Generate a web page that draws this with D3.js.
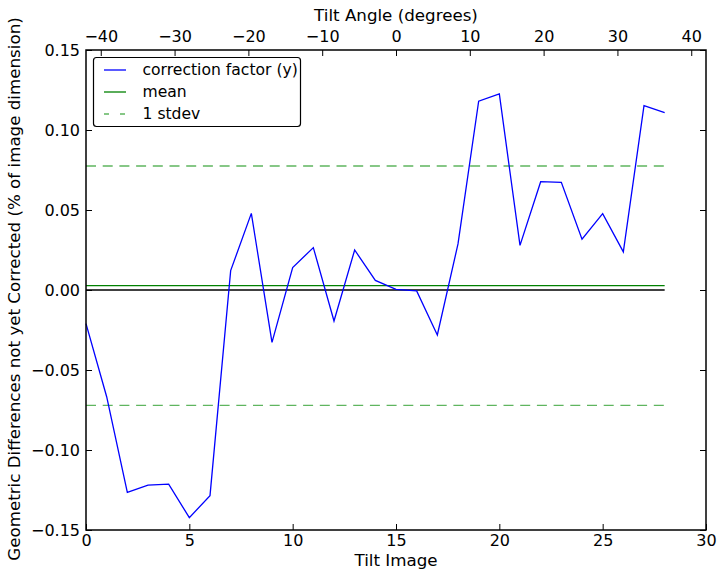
<!DOCTYPE html>
<html><head><meta charset="utf-8">
<script src="https://cdn.jsdelivr.net/npm/d3@7"></script>
<style>body{margin:0;background:#fff}svg text{font-family:"DejaVu Sans",sans-serif;fill:#000}</style>
</head><body><svg id="c" width="725" height="579"></svg>
<script>
const tiltImage = d3.range(0, 29);
const correction = [-0.0210, -0.0667, -0.1265, -0.1219, -0.1213, -0.1423, -0.1285, 0.0121, 0.0479, -0.0327,
  0.0140, 0.0265, -0.0194, 0.0250, 0.0060, 0.0004, -0.0006, -0.0281, 0.0288, 0.1180,
  0.1225, 0.0279, 0.0677, 0.0673, 0.0317, 0.0477, 0.0238, 0.1152, 0.1108];
const meanValue = 0.0027;
const stdevValue = 0.0748;
const xTicks = [0, 5, 10, 15, 20, 25, 30];
const yTicks = [-0.15, -0.10, -0.05, 0.00, 0.05, 0.10, 0.15];
const angleTicks = [-40, -30, -20, -10, 0, 10, 20, 30, 40];
const legendLabels = ["correction factor (y)", "mean", "1 stdev"];

const L = 86, R = 706, T = 50, B = 530;
const svg = d3.select("#c");
const x = d3.scaleLinear().domain([0, 30]).range([L, R]);
const xa = d3.scaleLinear().domain([-42, 42]).range([L, R]);
const y = d3.scaleLinear().domain([-0.15, 0.15]).range([B, T]);
const fs = 16;
const fsTitle = 16.7;
const fmtY = v => (v < 0 ? "\u2212" : "") + Math.abs(v).toFixed(2);
const fmtI = v => (v < 0 ? "\u2212" : "") + Math.abs(v);
const dashCol = "#5fb55f";

const g = svg.append("g");
g.append("line").attr("x1", x(0)).attr("x2", x(28)).attr("y1", y(0)).attr("y2", y(0)).attr("stroke", "#000").attr("stroke-width", 1.3);
g.append("line").attr("x1", x(0)).attr("x2", x(28)).attr("y1", y(meanValue)).attr("y2", y(meanValue)).attr("stroke", "#008000").attr("stroke-width", 1.3);
[meanValue + stdevValue, meanValue - stdevValue].forEach(v => {
  g.append("line").attr("x1", x(0)).attr("x2", x(28)).attr("y1", y(v)).attr("y2", y(v))
    .attr("stroke", dashCol).attr("stroke-width", 1.4).attr("stroke-dasharray", "10,6.7");
});
g.append("path").datum(correction)
  .attr("d", d3.line().x((d, i) => x(tiltImage[i])).y(d => y(d)))
  .attr("fill", "none").attr("stroke", "#0000ff").attr("stroke-width", 1.3);

svg.append("rect").attr("x", L).attr("y", T).attr("width", R - L).attr("height", B - T)
  .attr("fill", "none").attr("stroke", "#000").attr("stroke-width", 1.5);

const tk = 6;
const bAx = svg.append("g").attr("transform", `translate(0,${B})`)
  .call(d3.axisBottom(x).tickValues(xTicks).tickSizeInner(-tk).tickSizeOuter(0).tickPadding(5).tickFormat(fmtI));
const tAx = svg.append("g").attr("transform", `translate(0,${T})`)
  .call(d3.axisTop(xa).tickValues(angleTicks).tickSizeInner(-tk).tickSizeOuter(0).tickPadding(8).tickFormat(fmtI));
const lAx = svg.append("g").attr("transform", `translate(${L},0)`)
  .call(d3.axisLeft(y).tickValues(yTicks).tickSizeInner(-tk).tickSizeOuter(0).tickPadding(6).tickFormat(fmtY));
const rAx = svg.append("g").attr("transform", `translate(${R},0)`)
  .call(d3.axisRight(y).tickValues(yTicks).tickSizeInner(-tk).tickSizeOuter(0).tickFormat(""));
[bAx, tAx, lAx, rAx].forEach(a => {
  a.select(".domain").remove();
  a.selectAll(".tick line").attr("stroke", "#000").attr("stroke-width", 1);
  a.selectAll("text").attr("font-size", fs).attr("font-family", "DejaVu Sans");
});

svg.append("text").attr("x", (L + R) / 2).attr("y", 566).attr("text-anchor", "middle").attr("font-size", fsTitle).text("Tilt Image");
svg.append("text").attr("x", (L + R) / 2).attr("y", 21).attr("text-anchor", "middle").attr("font-size", fsTitle).text("Tilt Angle (degrees)");
svg.append("text").attr("transform", `translate(20,${(T + B) / 2 - 1}) rotate(-90)`).attr("text-anchor", "middle").attr("font-size", fsTitle)
  .text("Geometric Differences not yet Corrected (% of image dimension)");

const lg = svg.append("g");
lg.append("rect").attr("x", 93.5).attr("y", 57.5).attr("width", 207).attr("height", 69).attr("rx", 3)
  .attr("fill", "#fff").attr("stroke", "#000").attr("stroke-width", 1.2);
const styles = [
  {c: "#0000ff", d: null},
  {c: "#008000", d: null},
  {c: dashCol, d: "5,11"}
];
const rowsY = [70, 92, 114];
legendLabels.forEach((t, i) => {
  const yy = rowsY[i];
  const s = styles[i];
  const ln = lg.append("line").attr("x1", 104).attr("x2", 126).attr("y1", yy).attr("y2", yy)
    .attr("stroke", s.c).attr("stroke-width", 1.3);
  if (s.d) ln.attr("stroke-dasharray", s.d);
  lg.append("text").attr("x", 142.5).attr("y", yy).attr("dy", "0.35em").attr("font-size", 15.6).text(t);
});
</script></body></html>
